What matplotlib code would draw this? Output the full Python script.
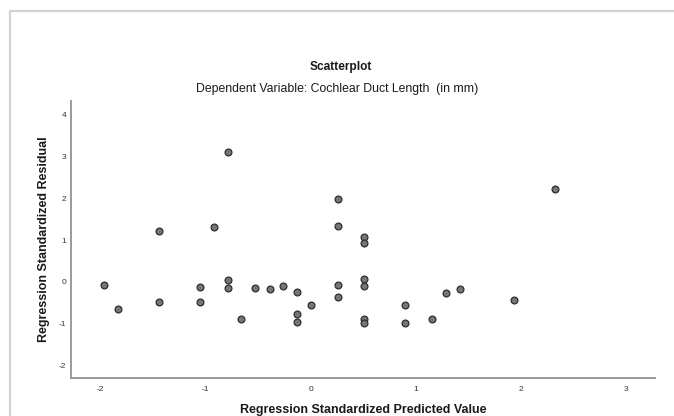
import matplotlib
matplotlib.use("Agg")
import matplotlib.pyplot as plt
from matplotlib.patches import Rectangle

plt.rcParams['font.family'] = ['Liberation Sans', 'DejaVu Sans']

pred = [-1.97, -1.83, -1.44, -1.44, -1.05, -1.05, -0.92, -0.79, -0.79, -0.79,
        -0.66, -0.53, -0.39, -0.26, -0.13, -0.13, -0.13, 0.00,
        0.26, 0.26, 0.26, 0.26,
        0.51, 0.51, 0.51, 0.51, 0.51, 0.51,
        0.90, 0.90, 1.16, 1.29, 1.42, 1.94, 2.33]
resid = [-0.07, -0.64, 1.23, -0.49, -0.13, -0.49, 1.31, 3.11, 0.05, -0.15,
         -0.89, -0.15, -0.17, -0.10, -0.25, -0.76, -0.95, -0.54,
         1.98, 1.33, -0.08, -0.37,
         1.08, 0.93, 0.07, -0.09, -0.88, -0.99,
         -0.54, -0.97, -0.88, -0.26, -0.17, -0.44, 2.22]

xticks = [-2, -1, 0, 1, 2, 3]
yticks = [-2, -1, 0, 1, 2, 3, 4]

fig = plt.figure(figsize=(6.74, 4.16), dpi=100)
fig.patch.set_facecolor('white')

# outer frame (top and left visible)
fig.add_artist(Rectangle((10/674, -0.05), 1.1, (416-11)/416 + 0.05,
                         transform=fig.transFigure, fill=False,
                         edgecolor='#d3d3d3', linewidth=1.6))

ax = fig.add_axes([71/674, 1-378/416, (655-71)/674, (378-101)/416])
ax.scatter(pred, resid, s=24, facecolor='#767676', edgecolor='#2e2e2e',
           linewidth=0.9, zorder=3)

ax.set_xlim(-2.281, 3.281)
ax.set_ylim(-2.297, 4.33)
ax.set_xticks(xticks)
ax.set_yticks(yticks)
ax.set_xticklabels([str(t) for t in xticks])
ax.set_yticklabels([str(t) for t in yticks])
ax.tick_params(length=0, labelsize=6, labelcolor='#333333')
ax.tick_params(axis='x', pad=5.5)
ax.tick_params(axis='y', pad=3.5)
for s in ['top', 'right']:
    ax.spines[s].set_visible(False)
for s in ['left', 'bottom']:
    ax.spines[s].set_color('#9a9a9a')
    ax.spines[s].set_linewidth(1.4)

ax.set_xlabel('Regression Standardized Predicted Value', fontsize=9,
              fontweight='bold', labelpad=8, color='#1a1a1a')
ax.set_ylabel('Regression Standardized Residual', fontsize=9,
              fontweight='bold', labelpad=6.5, color='#1a1a1a')

fig.text(0.505, 1 - 67/416, 'Scatterplot',
         ha='center', va='center', fontsize=8.6, fontweight='bold', color='#1a1a1a')
fig.text(0.5, 1 - 89/416,
         'Dependent Variable: Cochlear Duct Length  (in mm)',
         ha='center', va='center', fontsize=8.8, color='#1a1a1a')

fig.savefig('out.png', dpi=100, facecolor='white')
